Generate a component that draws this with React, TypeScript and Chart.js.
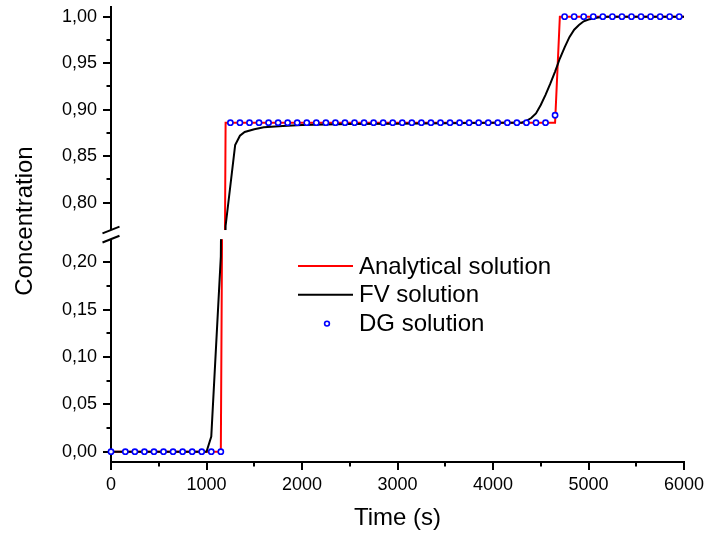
import React, { useEffect, useRef } from "react";
import { Chart, registerables } from "chart.js";

Chart.register(...registerables);

// ---------- data ----------
const anTime = [0, 1150, 1200, 4650, 4700, 6000];
const anValue = [0, 0, 0.886, 0.886, 1, 1];

const fvTime = [0, 500, 1000, 1050, 1150, 1200, 1300, 1350, 1400, 1500, 1600, 1800, 2000, 2500, 3000, 3500, 4000, 4300, 4350, 4400, 4450, 4500, 4550, 4600, 4650, 4700, 4750, 4800, 4850, 4900, 4950, 5000, 5100, 5200, 6000];
const fvValue = [0, 0, 0, 0.016, 0.206, 0.775, 0.862, 0.872, 0.876, 0.879, 0.881, 0.8825, 0.8835, 0.8845, 0.885, 0.8855, 0.886, 0.886, 0.888, 0.891, 0.896, 0.905, 0.916, 0.928, 0.941, 0.955, 0.967, 0.978, 0.986, 0.991, 0.995, 0.997, 0.999, 1.0, 1.0];

const dgTime = [0, 150, 250, 350, 450, 550, 650, 750, 850, 950, 1050, 1150, 1250, 1350, 1450, 1550, 1650, 1750, 1850, 1950, 2050, 2150, 2250, 2350, 2450, 2550, 2650, 2750, 2850, 2950, 3050, 3150, 3250, 3350, 3450, 3550, 3650, 3750, 3850, 3950, 4050, 4150, 4250, 4350, 4450, 4550, 4650, 4750, 4850, 4950, 5050, 5150, 5250, 5350, 5450, 5550, 5650, 5750, 5850, 5950];
const dgValue = [0, 0, 0, 0, 0, 0, 0, 0, 0, 0, 0, 0, 0.886, 0.886, 0.886, 0.886, 0.886, 0.886, 0.886, 0.886, 0.886, 0.886, 0.886, 0.886, 0.886, 0.886, 0.886, 0.886, 0.886, 0.886, 0.886, 0.886, 0.886, 0.886, 0.886, 0.886, 0.886, 0.886, 0.886, 0.886, 0.886, 0.886, 0.886, 0.886, 0.886, 0.886, 0.894, 1, 1, 1, 1, 1, 1, 1, 1, 1, 1, 1, 1, 1];

const xTicks = [0, 1000, 2000, 3000, 4000, 5000, 6000];
const xMinorTicks = [500, 1500, 2500, 3500, 4500, 5500];
const yLowTicks = [0, 0.05, 0.1, 0.15, 0.2];
const yLowMinorTicks = [0.025, 0.075, 0.125, 0.175];
const yHighTicks = [0.8, 0.85, 0.9, 0.95, 1.0];
const yHighMinorTicks = [0.825, 0.875, 0.925, 0.975];

const seriesNames = ["Analytical solution", "FV solution", "DG solution"];

const FONT = '"Liberation Sans", Arial, Helvetica, sans-serif';

const pts = (xs: number[], ys: number[]) => xs.map((x, i) => ({ x, y: ys[i] }));

function makeDatasets() {
  const out: any[] = [];
  const clip = { left: 8, right: 8, top: 0, bottom: 0 };
  for (const axis of ["yTop", "yBot"]) {
    const primary = axis === "yTop";
    out.push({
      label: seriesNames[2],
      legendShow: primary,
      kind: "point",
      data: pts(dgTime, dgValue),
      yAxisID: axis,
      showLine: false,
      pointRadius: 2.6,
      pointBorderWidth: 1.6,
      pointBorderColor: "#0000ff",
      pointBackgroundColor: "#ffffff",
      borderColor: "#0000ff",
      backgroundColor: "#ffffff",
      order: 0,
      clip,
    });
    out.push({
      label: seriesNames[1],
      legendShow: primary,
      kind: "line",
      data: pts(fvTime, fvValue),
      yAxisID: axis,
      borderColor: "#000000",
      borderWidth: 2,
      pointRadius: 0,
      tension: 0,
      fill: false,
      order: 1,
      clip,
    });
    out.push({
      label: seriesNames[0],
      legendShow: primary,
      kind: "line",
      data: pts(anTime, anValue),
      yAxisID: axis,
      borderColor: "#ff0000",
      borderWidth: 2,
      pointRadius: 0,
      tension: 0,
      fill: false,
      order: 2,
      clip,
    });
  }
  return out;
}

const fmt = (v: number) => v.toFixed(2).replace(".", ",");

function yScale(min: number, max: number, ticks: number[]) {
  return {
    type: "linear",
    position: "left",
    stack: "conc",
    stackWeight: 1,
    min,
    max,
    offset: false,
    clip: true,
    afterBuildTicks: (s: any) => {
      s.ticks = ticks.map((v) => ({ value: v }));
    },
    afterFit: (s: any) => {
      s.width = 111;
      s.paddingTop = 0;
      s.paddingBottom = 0;
    },
    ticks: {
      callback: (v: any) => fmt(Number(v)),
      font: { family: FONT, size: 18 },
      color: "#000",
      padding: 6,
    },
    grid: {
      drawOnChartArea: false,
      drawTicks: true,
      tickLength: 8,
      color: "#000",
      lineWidth: 2,
    },
    border: { display: true, color: "#000", width: 2 },
  };
}

const breakPlugin = {
  id: "axisBreak",
  afterDatasetsDraw(chart: any) {
    const ctx = chart.ctx;
    const top = chart.scales.yTop;
    const bot = chart.scales.yBot;
    const yUp = top.getPixelForValue(0.7706);
    const yLow = bot.getPixelForValue(0.2245);
    const y0 = Math.min(yUp, yLow);
    const y1 = Math.max(yUp, yLow);
    ctx.save();
    ctx.fillStyle = "#fff";
    ctx.fillRect(chart.chartArea.left - 3, y0, chart.chartArea.right - chart.chartArea.left + 20, y1 - y0);
    ctx.strokeStyle = "#000";
    ctx.lineWidth = 2;
    const ax = chart.chartArea.left;
    for (const y of [y0, y1]) {
      ctx.beginPath();
      ctx.moveTo(ax - 8.5, y + 3.4);
      ctx.lineTo(ax + 8.5, y - 3.4);
      ctx.stroke();
    }
    ctx.restore();
  },
  afterDraw(chart: any) {
    const ctx = chart.ctx;
    ctx.save();
    ctx.strokeStyle = "#000";
    ctx.lineWidth = 2;
    // minor ticks
    const xs = chart.scales.x;
    for (const v of xMinorTicks) {
      const p = Math.round(xs.getPixelForValue(v));
      ctx.beginPath();
      ctx.moveTo(p, xs.top);
      ctx.lineTo(p, xs.top + 4.5);
      ctx.stroke();
    }
    const pairs: [any, number[]][] = [
      [chart.scales.yTop, yHighMinorTicks],
      [chart.scales.yBot, yLowMinorTicks],
    ];
    for (const [s, arr] of pairs) {
      for (const v of arr) {
        const p = Math.round(s.getPixelForValue(v));
        ctx.beginPath();
        ctx.moveTo(s.right, p);
        ctx.lineTo(s.right - 4.5, p);
        ctx.stroke();
      }
    }
    // y-axis title
    ctx.fillStyle = "#000";
    ctx.font = `24px ${FONT}`;
    ctx.textAlign = "center";
    ctx.textBaseline = "middle";
    ctx.translate(25, 221);
    ctx.rotate(-Math.PI / 2);
    ctx.fillText("Concentration", 0, 0);
    ctx.restore();

    // legend
    ctx.save();
    const items = chart.data.datasets.filter((d: any) => d.legendShow);
    const order = seriesNames.map((n) => items.find((d: any) => d.label === n));
    const rowY = [266, 294.7, 323.6];
    ctx.font = `24px ${FONT}`;
    ctx.textAlign = "left";
    ctx.textBaseline = "middle";
    order.forEach((d: any, i: number) => {
      const y = rowY[i];
      if (d.kind === "line") {
        ctx.strokeStyle = d.borderColor;
        ctx.lineWidth = 2;
        ctx.beginPath();
        ctx.moveTo(298, y);
        ctx.lineTo(353, y);
        ctx.stroke();
      } else {
        ctx.strokeStyle = d.pointBorderColor;
        ctx.fillStyle = "#fff";
        ctx.lineWidth = 1.6;
        ctx.beginPath();
        ctx.arc(327, y, 2.4, 0, Math.PI * 2);
        ctx.fill();
        ctx.stroke();
      }
      ctx.fillStyle = "#000";
      ctx.fillText(d.label, 359, y + 1);
    });
    ctx.restore();
  },
};

export default function App() {
  const ref = useRef<HTMLCanvasElement>(null);
  useEffect(() => {
    const canvas = ref.current;
    if (!canvas) return;
    const chart = new Chart(canvas, {
      type: "line",
      data: { datasets: makeDatasets() },
      options: {
        responsive: false,
        animation: false,
        events: [],
        layout: { padding: { left: 0, right: 25, top: 7, bottom: 0 } },
        plugins: {
          legend: { display: false },
          tooltip: { enabled: false },
        },
        scales: {
          x: {
            type: "linear",
            position: "bottom",
            min: 0,
            max: 6000,
            afterBuildTicks: (s: any) => {
              s.ticks = xTicks.map((v) => ({ value: v }));
            },
            afterFit: (s: any) => {
              s.height = 75;
              s.paddingLeft = 0;
              s.paddingRight = 0;
            },
            ticks: {
              font: { family: FONT, size: 18 },
              color: "#000",
              padding: 4,
              maxRotation: 0,
              callback: (v: any) => String(v),
            },
            grid: {
              drawOnChartArea: false,
              drawTicks: true,
              tickLength: 8,
              color: "#000",
              lineWidth: 2,
            },
            border: { display: true, color: "#000", width: 2 },
            title: {
              display: true,
              text: "Time (s)",
              color: "#000",
              font: { family: FONT, size: 24 },
              padding: { top: 0, bottom: 4 },
            },
          },
          // in a vertical stack the first declared scale is placed lowest
          yBot: yScale(-0.0109, 0.2294, yLowTicks),
          yTop: yScale(0.7658, 1.0104, yHighTicks),
        } as any,
      } as any,
      plugins: [breakPlugin],
    } as any);
    return () => chart.destroy();
  }, []);
  return (
    <div style={{ position: "fixed", left: 0, top: 0, width: 709, height: 537, background: "#fff" }}>
      <canvas ref={ref} width={709} height={537} style={{ display: "block", width: 709, height: 537 }} />
    </div>
  );
}
